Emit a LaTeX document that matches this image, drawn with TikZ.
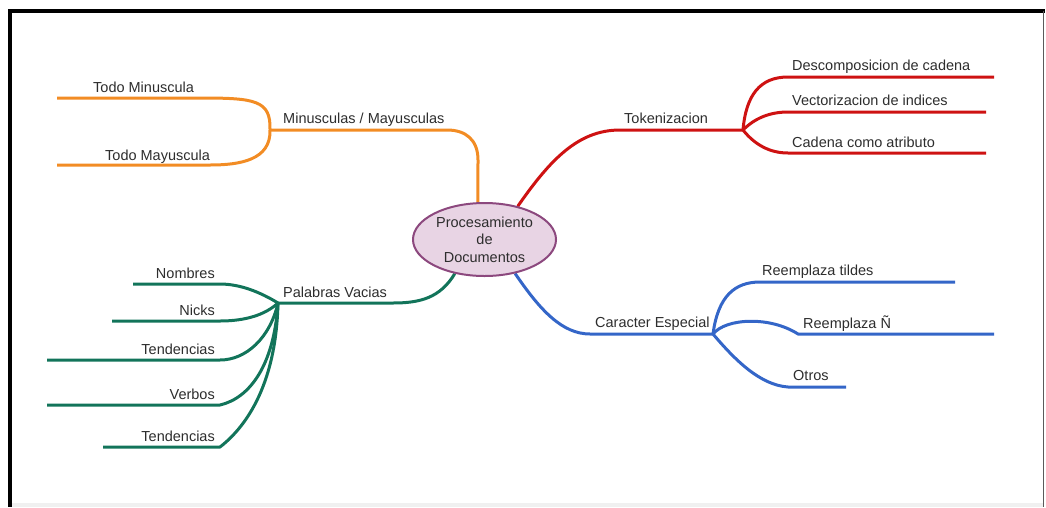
\documentclass[tikz,border=0pt]{standalone}
\usepackage{fontspec}
\setmainfont{Liberation Sans}
\usetikzlibrary{shapes.geometric,backgrounds}

\definecolor{mmorange}{RGB}{242,140,36}
\definecolor{mmred}{RGB}{206,18,18}
\definecolor{mmblue}{RGB}{52,102,200}
\definecolor{mmgreen}{RGB}{18,116,90}
\definecolor{docfill}{RGB}{232,212,228}
\definecolor{docline}{RGB}{140,72,126}
\definecolor{labeltext}{RGB}{45,45,45}
\definecolor{framegray}{RGB}{90,90,90}

\tikzset{
  lbl/.style={inner sep=0pt, text=labeltext, font=\fontsize{14.5}{16}\selectfont},
  lblw/.style={lbl, anchor=base west},
  lble/.style={lbl, anchor=base east},
  branch/.style={line width=3pt, line join=round},
  docnode/.style={ellipse, draw=docline, fill=docfill, line width=2pt,
    minimum width=143pt, minimum height=73pt, inner sep=0pt, align=center,
    text=labeltext, font=\fontsize{14.5}{17.5}\selectfont},
}

\begin{document}
\begin{tikzpicture}[x=1pt,y=-1pt]
\useasboundingbox (0,0) rectangle (1046,507);

% frame
\draw[line width=4pt] (8,11) -- (1045,11);
\draw[line width=4pt] (10,9) -- (10,507);
\draw[framegray, line width=1.5pt] (1043.5,11) -- (1043.5,507);

% central topic
\node[docnode] (doc) at (484.5,239.5) {Procesamiento\\de\\Documentos};

% ---------- junction and end points ----------
% Minusculas / Mayusculas
\coordinate (minV) at (478,160);
\coordinate (minT) at (447,130);
\coordinate (minJ) at (270,130);
\coordinate (tminA) at (200,98);
\coordinate (tminB) at (57,98);
\coordinate (tmayA) at (210,165);
\coordinate (tmayB) at (57,165);
% Tokenizacion
\coordinate (tokT) at (620,130);
\coordinate (tokJ) at (743,130);
\coordinate (desA) at (788,77);
\coordinate (desB) at (994,77);
\coordinate (vecA) at (788,112);
\coordinate (vecB) at (986,112);
\coordinate (cadA) at (788,153);
\coordinate (cadB) at (986,153);
% Caracter Especial
\coordinate (carT) at (590,334);
\coordinate (carJ) at (713,334);
\coordinate (tilA) at (760,282);
\coordinate (tilB) at (955,282);
\coordinate (enyA) at (798,334);
\coordinate (enyB) at (994,334);
\coordinate (otrA) at (788,387);
\coordinate (otrB) at (846,387);
% Palabras Vacias
\coordinate (pvT) at (393,303);
\coordinate (pvJ) at (278,303);
\coordinate (nomA) at (220,284);
\coordinate (nomB) at (133,284);
\coordinate (nicA) at (220,321);
\coordinate (nicB) at (112,321);
\coordinate (tenA) at (220,360);
\coordinate (tenB) at (47,360);
\coordinate (verA) at (220,405);
\coordinate (verB) at (47,405);
\coordinate (tedA) at (220,447);
\coordinate (tedB) at (103,447);

% ---------- branches (behind the central ellipse) ----------
\begin{scope}[on background layer]
  \fill[black!6] (12,503) rectangle (1043,507);
  % orange
  \draw[branch, mmorange] (doc.100) -- (minV)
    .. controls (478,140) and (466,130) .. (minT) -- (minJ);
  \draw[branch, mmorange] (minJ) .. controls (271,100) and (255,98) .. (tminA) -- (tminB);
  \draw[branch, mmorange] (minJ) .. controls (271,160) and (240,165) .. (tmayA) -- (tmayB);
  % red
  \draw[branch, mmred] (doc.45) .. controls (550,160) and (578,130) .. (tokT) -- (tokJ);
  \draw[branch, mmred] (tokJ) .. controls (746,95) and (760,77) .. (desA) -- (desB);
  \draw[branch, mmred] (tokJ) .. controls (755,118) and (770,112) .. (vecA) -- (vecB);
  \draw[branch, mmred] (tokJ) .. controls (755,145) and (770,153) .. (cadA) -- (cadB);
  % blue
  \draw[branch, mmblue] (doc.-48) .. controls (540,310) and (562,334) .. (carT) -- (carJ);
  \draw[branch, mmblue] (carJ) .. controls (718,296) and (735,282) .. (tilA) -- (tilB);
  \draw[branch, mmblue] (carJ) .. controls (726,318) and (770,316) .. (enyA) -- (enyB);
  \draw[branch, mmblue] (carJ) .. controls (735,360) and (760,385) .. (otrA) -- (otrB);
  % green
  \draw[branch, mmgreen] (doc.-131) .. controls (440,298) and (420,303) .. (pvT) -- (pvJ);
  \draw[branch, mmgreen] (pvJ) .. controls (260,292) and (240,284) .. (nomA) -- (nomB);
  \draw[branch, mmgreen] (pvJ) .. controls (265,315) and (245,321) .. (nicA) -- (nicB);
  \draw[branch, mmgreen] (pvJ) .. controls (270,338) and (246,360) .. (tenA) -- (tenB);
  \draw[branch, mmgreen] (pvJ) .. controls (274,365) and (250,398) .. (verA) -- (verB);
  \draw[branch, mmgreen] (pvJ) .. controls (276,390) and (242,430) .. (tedA) -- (tedB);
\end{scope}

% ---------- labels ----------
\node[lblw] (lmin) at (283,123) {Minusculas / Mayusculas};
\node[lblw] (ltmin) at (93,92) {Todo Minuscula};
\node[lblw] (ltmay) at (105,160) {Todo Mayuscula};
\node[lblw] (ltok) at (624,123) {Tokenizacion};
\node[lblw] (ldes) at (792,70) {Descomposicion de cadena};
\node[lblw] (lvec) at (792,105) {Vectorizacion de indices};
\node[lblw] (lcad) at (792,147) {Cadena como atributo};
\node[lblw] (lcar) at (595,327) {Caracter Especial};
\node[lblw] (ltil) at (762,275) {Reemplaza tildes};
\node[lblw] (leny) at (803,328) {Reemplaza Ñ};
\node[lblw] (lotr) at (793,380) {Otros};
\node[lblw] (lpv) at (283,297) {Palabras Vacias};
\node[lble] (lnom) at (215,278) {Nombres};
\node[lble] (lnic) at (215,315) {Nicks};
\node[lble] (lten) at (215,354) {Tendencias};
\node[lble] (lver) at (215,399) {Verbos};
\node[lble] (lted) at (215,441) {Tendencias};
\end{tikzpicture}
\end{document}
